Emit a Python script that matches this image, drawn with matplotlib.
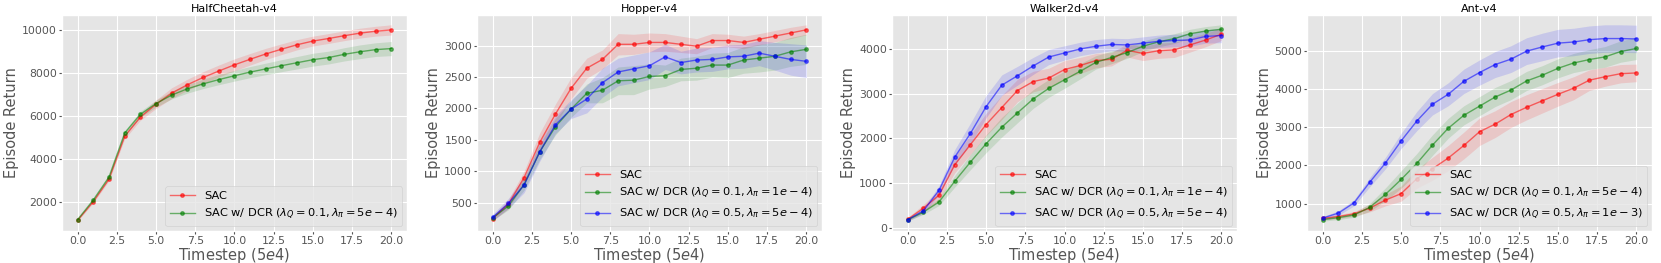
import numpy as np
import matplotlib
matplotlib.use("Agg")
import matplotlib.pyplot as plt

plt.style.use("ggplot")

steps = np.arange(21)

# HalfCheetah-v4
hc_sac = [1130, 2000, 3050, 5050, 5950, 6550, 7070, 7460, 7800, 8100, 8390, 8650, 8900, 9120, 9330, 9500, 9620, 9750, 9870, 9960, 10020]
hc_sac_std = [40, 60, 80, 120, 150, 200, 250, 260, 270, 280, 280, 270, 260, 250, 240, 230, 230, 230, 230, 230, 240]
hc_dcr = [1160, 2080, 3150, 5200, 6080, 6580, 6980, 7270, 7500, 7700, 7880, 8050, 8200, 8350, 8490, 8630, 8730, 8880, 9000, 9100, 9150]
hc_dcr_std = [40, 60, 80, 120, 140, 160, 180, 200, 220, 240, 250, 260, 270, 280, 290, 300, 300, 310, 320, 320, 330]

# Hopper-v4
hop_sac = [250, 480, 900, 1460, 1910, 2320, 2640, 2780, 3020, 3020, 3050, 3050, 3020, 2990, 3080, 3080, 3050, 3100, 3150, 3200, 3250]
hop_sac_std = [40, 70, 100, 150, 160, 170, 160, 150, 170, 160, 150, 140, 130, 120, 110, 100, 100, 90, 90, 90, 80]
hop_dcr1 = [260, 450, 790, 1310, 1710, 1990, 2240, 2290, 2440, 2450, 2510, 2520, 2620, 2640, 2690, 2690, 2770, 2800, 2830, 2900, 2940]
hop_dcr1_std = [40, 60, 90, 120, 130, 130, 150, 200, 220, 230, 200, 170, 180, 190, 190, 200, 210, 220, 220, 230, 240]
hop_dcr2 = [270, 490, 780, 1310, 1740, 1990, 2150, 2410, 2580, 2630, 2680, 2820, 2730, 2770, 2780, 2820, 2830, 2880, 2830, 2780, 2750]
hop_dcr2_std = [50, 80, 120, 150, 140, 150, 220, 230, 220, 220, 220, 200, 180, 190, 190, 190, 190, 200, 220, 250, 260]

# Walker2d-v4
wk_sac = [190, 440, 730, 1410, 1860, 2310, 2690, 3070, 3270, 3350, 3540, 3630, 3740, 3770, 3970, 3900, 3960, 3980, 4090, 4200, 4330]
wk_sac_std = [40, 80, 120, 180, 220, 250, 270, 250, 230, 220, 200, 180, 160, 150, 150, 160, 170, 170, 160, 150, 140]
wk_dcr1 = [180, 350, 580, 1040, 1470, 1880, 2250, 2570, 2880, 3120, 3310, 3500, 3700, 3810, 3920, 4060, 4160, 4230, 4340, 4400, 4440]
wk_dcr1_std = [30, 50, 80, 130, 170, 200, 220, 220, 210, 200, 190, 170, 150, 140, 130, 120, 110, 110, 100, 100, 100]
wk_dcr2 = [180, 380, 840, 1580, 2110, 2710, 3190, 3400, 3620, 3820, 3910, 4000, 4060, 4100, 4090, 4130, 4170, 4190, 4200, 4280, 4300]
wk_dcr2_std = [30, 60, 100, 170, 230, 250, 230, 210, 190, 170, 160, 150, 150, 140, 140, 140, 140, 140, 140, 150, 160]

# Ant-v4
ant_sac = [610, 660, 730, 880, 1090, 1260, 1650, 1910, 2190, 2520, 2880, 3080, 3330, 3520, 3690, 3860, 4020, 4230, 4320, 4400, 4420]
ant_sac_std = [40, 50, 60, 100, 150, 200, 250, 300, 330, 350, 360, 350, 340, 330, 320, 310, 300, 270, 250, 240, 230]
ant_dcr1 = [580, 630, 700, 900, 1240, 1630, 2050, 2530, 2970, 3310, 3550, 3790, 3970, 4210, 4360, 4540, 4680, 4770, 4840, 4980, 5060]
ant_dcr1_std = [40, 50, 60, 100, 170, 230, 260, 270, 260, 250, 250, 250, 250, 250, 250, 250, 250, 260, 270, 280, 290]
ant_dcr2 = [620, 750, 1020, 1560, 2060, 2640, 3160, 3600, 3860, 4200, 4430, 4640, 4780, 4990, 5100, 5200, 5230, 5290, 5320, 5320, 5310]
ant_dcr2_std = [40, 60, 80, 120, 150, 200, 250, 280, 300, 320, 330, 340, 350, 350, 360, 360, 360, 360, 360, 360, 360]

panels = [
    ("HalfCheetah-v4", [
        (hc_sac, hc_sac_std, "red", "SAC"),
        (hc_dcr, hc_dcr_std, "green", r"SAC w/ DCR ($\lambda_Q=0.1, \lambda_\pi=5e-4$)"),
    ]),
    ("Hopper-v4", [
        (hop_sac, hop_sac_std, "red", "SAC"),
        (hop_dcr1, hop_dcr1_std, "green", r"SAC w/ DCR ($\lambda_Q=0.1, \lambda_\pi=1e-4$)"),
        (hop_dcr2, hop_dcr2_std, "blue", r"SAC w/ DCR ($\lambda_Q=0.5, \lambda_\pi=5e-4$)"),
    ]),
    ("Walker2d-v4", [
        (wk_sac, wk_sac_std, "red", "SAC"),
        (wk_dcr1, wk_dcr1_std, "green", r"SAC w/ DCR ($\lambda_Q=0.1, \lambda_\pi=1e-4$)"),
        (wk_dcr2, wk_dcr2_std, "blue", r"SAC w/ DCR ($\lambda_Q=0.5, \lambda_\pi=5e-4$)"),
    ]),
    ("Ant-v4", [
        (ant_sac, ant_sac_std, "red", "SAC"),
        (ant_dcr1, ant_dcr1_std, "green", r"SAC w/ DCR ($\lambda_Q=0.1, \lambda_\pi=5e-4$)"),
        (ant_dcr2, ant_dcr2_std, "blue", r"SAC w/ DCR ($\lambda_Q=0.5, \lambda_\pi=1e-3$)"),
    ]),
]

fig, axes = plt.subplots(1, 4, figsize=(16.61, 2.63), dpi=100)
fig.subplots_adjust(left=0.0373, right=0.9946, bottom=0.122, top=0.943, wspace=0.203)

for ax, (title, series) in zip(axes, panels):
    for mean, std, color, label in series:
        mean = np.array(mean)
        std = np.array(std)
        ax.plot(steps, mean, "o-", color=color, alpha=0.55, lw=1, markersize=2.5, label=label)
        ax.fill_between(steps, mean - std, mean + std, color=color, alpha=0.13, lw=0)
    ax.set_title(title, fontsize=8, pad=2)
    ax.set_xlabel("Timestep ($5e4$)", fontsize=10.5, labelpad=0)
    ax.set_ylabel("Episode Return", fontsize=10.5, labelpad=2)
    ax.tick_params(labelsize=7.8, pad=1.5, length=2)
    ax.set_xticks([0, 2.5, 5, 7.5, 10, 12.5, 15, 17.5, 20])
    ax.legend(loc="lower right", fontsize=8.2, handlelength=2.2, borderaxespad=0.4)

fig.savefig("out.png", dpi=100)
